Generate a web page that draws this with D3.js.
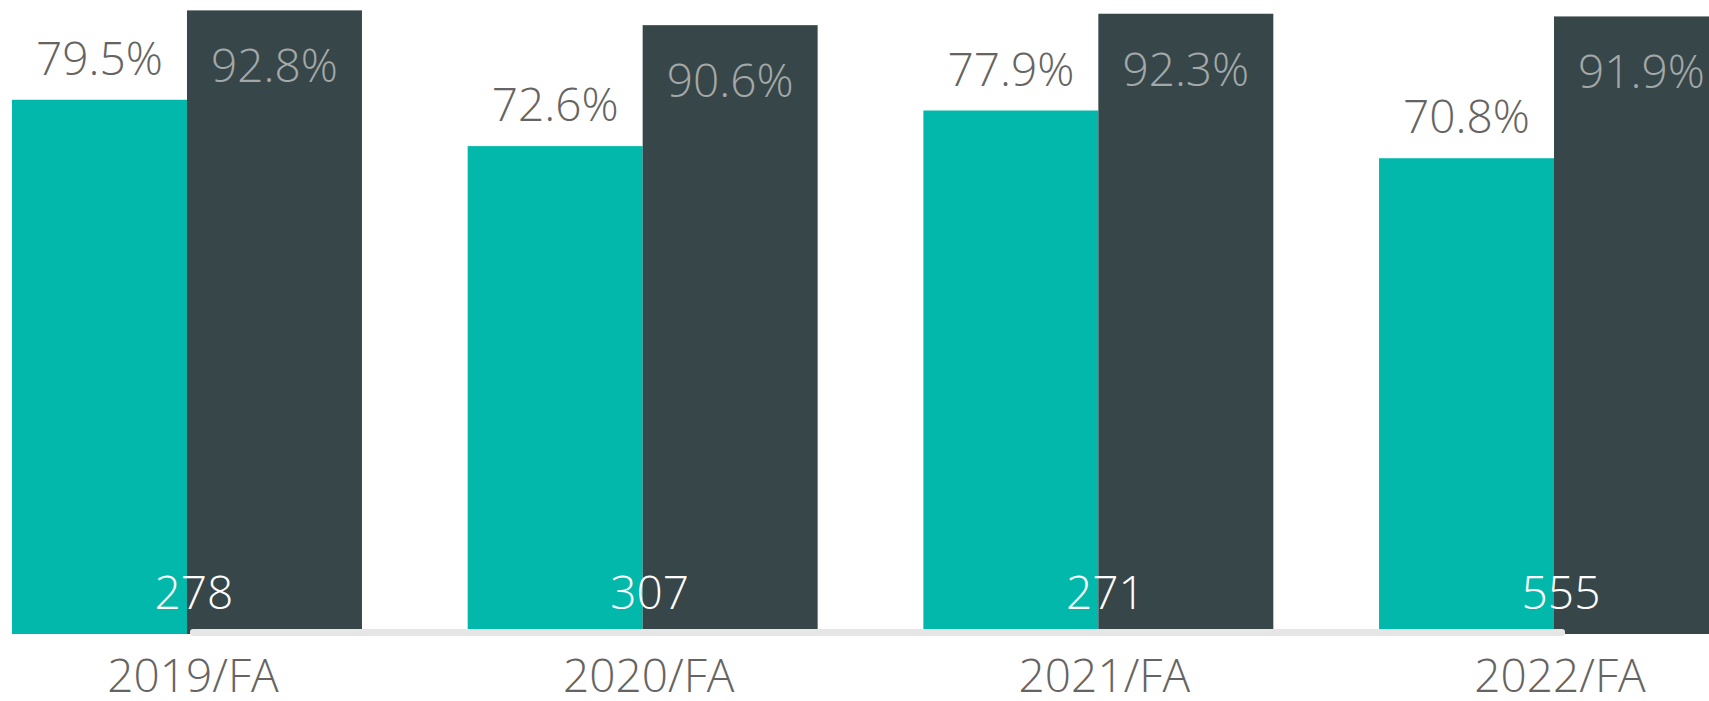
<!DOCTYPE html>
<html>
<head>
<meta charset="utf-8">
<script src="https://cdn.jsdelivr.net/npm/d3@7"></script>
<style>
  html, body { margin: 0; padding: 0; background: #fff; overflow: hidden; }
  svg { display: block; font-family: "Open Sans", "Noto Sans", sans-serif; font-weight: 300; }
</style>
</head>
<body>
<svg id="chart"></svg>
<script>
// values
const categories = ["2019/FA", "2020/FA", "2021/FA", "2022/FA"]
const seriesNames = ["rateA", "rateB"]
const rateA = [79.5, 72.6, 77.9, 70.8]
const rateB = [92.8, 90.6, 92.3, 91.9]
const counts = [278, 307, 271, 555]

const width = 1709
const height = 701

const svg = d3.select("svg#chart")
	.attr("width", width)
	.attr("height", height)

const x = d3.scaleBand()
	.domain(categories)
	.range([12, 1729])
	.paddingInner(0.232)
	.paddingOuter(0)

const xs = d3.scaleBand()
	.domain(seriesNames)
	.range([0, x.bandwidth()])
	.padding(0)

const y = d3.scaleLinear()
	.domain([0, 100])
	.range([634, -38])

const colors = { rateA: "#01B8AA", rateB: "#374649" }

const rows = categories.map((c, i) => ({
	cat: c,
	count: counts[i],
	vals: [
		{ key: "rateA", value: rateA[i] },
		{ key: "rateB", value: rateB[i] }
	]
}))

const groups = svg.append("g")
	.selectAll("g")
	.data(rows)
	.join("g")
	.attr("transform", d => `translate(${x(d.cat)},0)`)

groups.selectAll("rect")
	.data(d => d.vals)
	.join("rect")
	.attr("x", d => xs(d.key))
	.attr("y", d => y(d.value))
	.attr("width", xs.bandwidth())
	.attr("height", d => y(0) - y(d.value))
	.attr("fill", d => colors[d.key])

// percentage labels: outside end for teal, inside end for dark
groups.selectAll("text.pct")
	.data(d => d.vals)
	.join("text")
	.attr("class", "pct")
	.attr("x", d => xs(d.key) + xs.bandwidth() / 2)
	.attr("y", d => d.key == "rateA" ? y(d.value) - 25 : y(d.value) + 72)
	.attr("text-anchor", "middle")
	.attr("font-size", 46)
	.attr("fill", d => d.key == "rateA" ? "#666462" : "#A3A8A8")
	.text(d => d.value.toFixed(1) + "%")

// count labels at the base of each group
groups.append("text")
	.attr("x", x.bandwidth() / 2 + 7)
	.attr("y", 609)
	.attr("text-anchor", "middle")
	.attr("font-size", 46)
	.attr("fill", "#fff")
	.text(d => d.count)

// scrollbar-like strip across the bottom
svg.append("rect")
	.attr("x", 190)
	.attr("y", 629)
	.attr("width", 1375)
	.attr("height", 7)
	.attr("rx", 3)
	.attr("fill", "#e6e6e6")

// category labels
svg.append("g")
	.selectAll("text")
	.data(categories)
	.join("text")
	.attr("x", d => x(d) + x.bandwidth() / 2 + 6)
	.attr("y", 692)
	.attr("text-anchor", "middle")
	.attr("font-size", 46)
	.attr("fill", "#666462")
	.text(d => d)
</script>
</body>
</html>
